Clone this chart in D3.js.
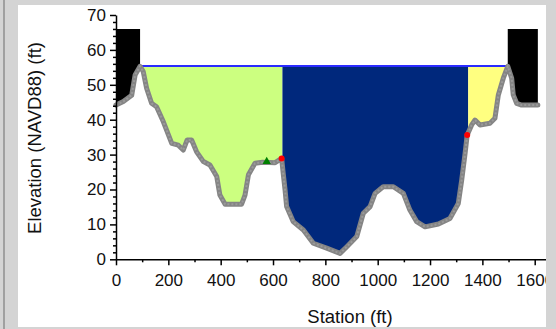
<!DOCTYPE html>
<html>
<head>
<meta charset="utf-8">
<script src="https://cdn.jsdelivr.net/npm/d3@7"></script>
<style>
  body { margin: 0; background: #d4d4d4; }
  svg { display: block; font-family: Arial, "Liberation Sans", sans-serif; }
</style>
</head>
<body>
<div id="chart"></div>
<script>
// ground profile, station (ft) / elevation (ft)
const stations = [0, 28, 60, 73, 92, 104, 117, 136, 155, 181, 213, 238, 257, 272, 289, 308, 334, 359, 385, 397, 417, 480, 493, 506, 531, 560, 608, 633, 639, 646, 652, 677, 716, 754, 805, 856, 882, 920, 945, 971, 990, 1021, 1060, 1098, 1123, 1149, 1181, 1232, 1276, 1308, 1321, 1334, 1342, 1359, 1372, 1391, 1429, 1448, 1461, 1480, 1497, 1512, 1518, 1531, 1550, 1612];
const elevations = [44.2, 45.2, 47, 52.8, 55.3, 53.8, 49, 44.7, 43.7, 39.4, 33.2, 32.7, 31.3, 34.2, 34.2, 30.8, 28, 27, 23.7, 18.4, 15.8, 15.8, 18.4, 24.2, 27.5, 27.8, 27.7, 28.9, 24.6, 19.9, 15.1, 10.8, 8.4, 4.6, 3.2, 1.7, 3.6, 6.5, 13.2, 15.1, 18.9, 20.8, 20.8, 18.9, 14.1, 10.8, 9.3, 10.1, 11.7, 16, 22.7, 30.4, 35.6, 38.5, 39.9, 38.5, 39, 40.4, 47.1, 51.9, 55.3, 51.9, 47.1, 44.7, 44.2, 44.2];

const waterSurface = 55.4;
const bankStations = [636, 1346];     // left bank / right bank
const wsExtent = [92, 1497];          // where the water surface meets ground
const blockTop = 66;                  // ineffective / levee blocks
const blocks = [[0, 92], [1497, 1612]];
const markerGreen = [[576, 27.7]];
const markerRed = [[633, 28.9], [1342, 35.6]];

const xTicks = [0, 200, 400, 600, 800, 1000, 1200, 1400, 1600];
const yTicks = [0, 10, 20, 30, 40, 50, 60, 70];

const W = 556, H = 329;
const svg = d3.select("#chart").append("svg")
    .attr("width", W)
    .attr("height", H);

// window frame
svg.append("rect").attr("x", 0).attr("y", 0).attr("width", W).attr("height", H).attr("fill", "#d4d4d4");
svg.append("rect").attr("x", 18).attr("y", 5).attr("width", 528).attr("height", 322).attr("fill", "#fff");

const x = d3.scaleLinear().domain([0, 1642]).range([116, 545.7]);
const y = d3.scaleLinear().domain([0, 70]).range([259.3, 15]);

const ground = stations.map((s, i) => [s, elevations[i]]);

function groundAt(s) {
    for (let i = 1; i < ground.length; i++) {
        if (s <= ground[i][0]) {
            const [s0, e0] = ground[i - 1], [s1, e1] = ground[i];
            return e0 + (e1 - e0) * (s - s0) / (s1 - s0);
        }
    }
    return ground[ground.length - 1][1];
}

// ground points between a and b, with interpolated ends
function segment(a, b) {
    const pts = [[a, groundAt(a)]];
    ground.forEach(p => { if (p[0] > a && p[0] < b) pts.push(p); });
    pts.push([b, groundAt(b)]);
    return pts;
}

function fillBetween(a, b, top, color) {
    const area = d3.area()
        .x(d => x(d[0]))
        .y0(d => y(Math.min(d[1], top)))
        .y1(y(top));
    svg.append("path")
        .datum(segment(a, b))
        .attr("d", area)
        .attr("fill", color);
}

fillBetween(wsExtent[0], bankStations[0], waterSurface, "#ccff80");
fillBetween(bankStations[0], bankStations[1], waterSurface, "#00287c");
fillBetween(bankStations[1], wsExtent[1], waterSurface, "#ffff80");

blocks.forEach(b => fillBetween(b[0], b[1], blockTop, "#000"));

// water surface
svg.append("line")
    .attr("x1", x(wsExtent[0])).attr("x2", x(wsExtent[1]))
    .attr("y1", y(waterSurface)).attr("y2", y(waterSurface))
    .attr("stroke", "#2a2aff")
    .attr("stroke-width", 2);

// ground line
const line = d3.line().x(d => x(d[0])).y(d => y(d[1]));
svg.append("path")
    .datum(ground)
    .attr("d", line)
    .attr("fill", "none")
    .attr("stroke", "#858585")
    .attr("stroke-width", 5)
    .attr("stroke-linejoin", "round")
    .attr("stroke-linecap", "round");
svg.append("path")
    .datum(ground)
    .attr("d", line)
    .attr("fill", "none")
    .attr("stroke", "#9a9a9a")
    .attr("stroke-width", 2)
    .attr("stroke-dasharray", "2,2");

// bank station markers
svg.selectAll(".tri")
    .data(markerGreen)
    .enter().append("path")
    .attr("d", d3.symbol(d3.symbolTriangle, 30))
    .attr("transform", d => `translate(${x(d[0])},${y(d[1]) - 1})`)
    .attr("fill", "#008000");
svg.selectAll(".dot")
    .data(markerRed)
    .enter().append("circle")
    .attr("cx", d => x(d[0]))
    .attr("cy", d => y(d[1]))
    .attr("r", 3)
    .attr("fill", "#ff0000");

// axes
svg.append("g")
    .attr("transform", `translate(0,${y(0)})`)
    .call(d3.axisBottom(x).tickValues(xTicks).tickFormat(d3.format("d")).tickSize(6).tickSizeOuter(0).tickPadding(9));
svg.append("g")
    .attr("transform", `translate(0,${y(0)})`)
    .call(d3.axisBottom(x).tickValues(d3.range(100, 1700, 200)).tickSize(3).tickSizeOuter(0).tickFormat(""))
    .select(".domain").remove();

svg.append("g")
    .attr("transform", `translate(${x(0)},0)`)
    .call(d3.axisLeft(y).tickValues(yTicks).tickSize(6).tickSizeOuter(0).tickPadding(4));
svg.append("g")
    .attr("transform", `translate(${x(0)},0)`)
    .call(d3.axisLeft(y).tickValues(d3.range(0, 71, 2).filter(v => v % 10)).tickSize(3).tickSizeOuter(0).tickFormat(""))
    .select(".domain").remove();

svg.selectAll(".tick text")
    .attr("font-size", 17)
    .attr("font-family", "Arial, 'Liberation Sans', sans-serif")
    .attr("fill", "#111");
svg.selectAll(".domain, .tick line").attr("stroke", "#000").attr("stroke-width", 1.5);

// titles
svg.append("text")
    .attr("x", 350)
    .attr("y", 323)
    .attr("text-anchor", "middle")
    .attr("font-size", 18.5)
    .attr("fill", "#111")
    .text("Station (ft)");

svg.append("text")
    .attr("transform", "translate(41,138) rotate(-90)")
    .attr("text-anchor", "middle")
    .attr("font-size", 18.5)
    .attr("fill", "#111")
    .text("Elevation (NAVD88) (ft)");

// frame edges drawn last so they clip the chart
svg.append("rect").attr("x", 546).attr("y", 0).attr("width", 10).attr("height", H).attr("fill", "#d4d4d4");
svg.append("rect").attr("x", 0).attr("y", 327).attr("width", W).attr("height", 2).attr("fill", "#d4d4d4");
svg.append("rect").attr("x", 0).attr("y", 0).attr("width", W).attr("height", 5).attr("fill", "#d4d4d4");
svg.append("rect").attr("x", 3).attr("y", 0).attr("width", 2).attr("height", H).attr("fill", "#a0a0a0");
</script>
</body>
</html>
